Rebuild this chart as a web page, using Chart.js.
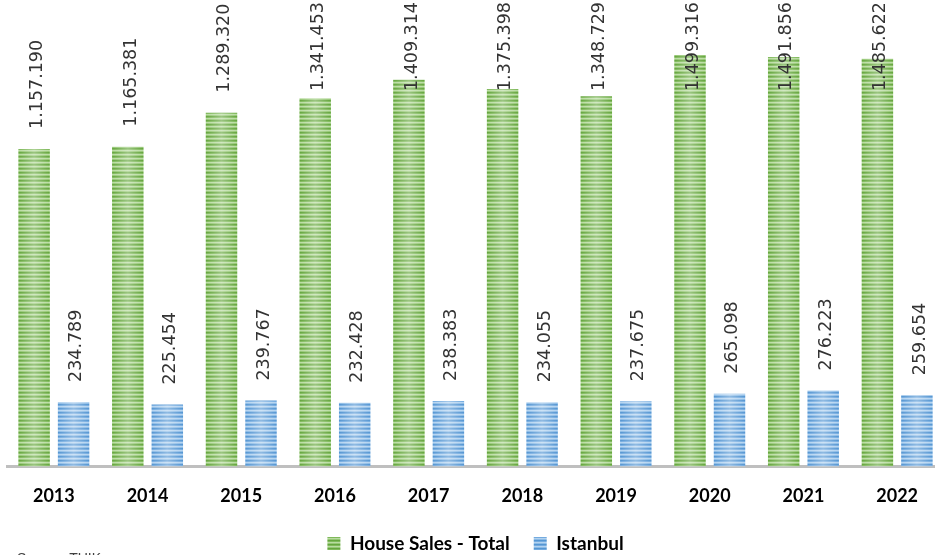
<!DOCTYPE html>
<html>
<head>
<meta charset="utf-8">
<script src="https://cdn.jsdelivr.net/npm/chart.js@4/dist/chart.umd.min.js"></script>
<style>
  html, body { margin: 0; padding: 0; background: #fff; overflow: hidden; }
  #wrap { width: 935px; height: 555px; overflow: hidden; }
</style>
</head>
<body>
<div id="wrap"><canvas id="chart" width="945" height="555"></canvas></div>
<script>
// chart data
const years = ['2013', '2014', '2015', '2016', '2017', '2018', '2019', '2020', '2021', '2022'];
const totalSales = [1157190, 1165381, 1289320, 1341453, 1409314, 1375398, 1348729, 1499316, 1491856, 1485622];
const istanbulSales = [234789, 225454, 239767, 232428, 238383, 234055, 237675, 265098, 276223, 259654];
const seriesNames = ['House Sales - Total', 'Istanbul'];
const sourceNote = 'Source: TUIK';

// turkish style thousands separator
function fmt(v) {
  return String(v).replace(/\B(?=(\d{3})+(?!\d))/g, '.');
}

// narrow horizontal stripes, like the excel pattern fill
function stripes(colors) {
  const c = document.createElement('canvas');
  c.width = 1;
  c.height = colors.length;
  const g = c.getContext('2d');
  colors.forEach((col, i) => {
    g.fillStyle = col;
    g.fillRect(0, i, 1, 1);
  });
  return g.createPattern(c, 'repeat');
}

const greenFill = stripes(['#65a53e', '#7fb95a', '#b9dba2', '#95c774']);
const blueFill = stripes(['#5596d2', '#74abdf', '#b3d3f0', '#8cbbe6']);

// soft light strip down the middle of each bar + value labels
const barDecor = {
  id: 'barDecor',
  afterDatasetsDraw(chart) {
    const ctx = chart.ctx;
    ctx.save();
    chart.data.datasets.forEach((ds, di) => {
      const meta = chart.getDatasetMeta(di);
      meta.data.forEach((bar) => {
        const p = bar.getProps(['x', 'y', 'base', 'width'], true);
        const l = p.x - p.width / 2, r = p.x + p.width / 2;
        const grad = ctx.createLinearGradient(l, 0, r, 0);
        grad.addColorStop(0, 'rgba(255,255,255,0)');
        grad.addColorStop(0.5, 'rgba(255,255,255,0.35)');
        grad.addColorStop(1, 'rgba(255,255,255,0)');
        ctx.fillStyle = grad;
        ctx.fillRect(l, p.y, p.width, p.base - p.y);
      });
    });

    ctx.font = '17.5px "DejaVu Sans"';
    ctx.fillStyle = '#333333';
    ctx.textAlign = 'left';
    ctx.textBaseline = 'alphabetic';
    chart.data.datasets.forEach((ds, di) => {
      const meta = chart.getDatasetMeta(di);
      meta.data.forEach((bar, i) => {
        const txt = fmt(ds.data[i]);
        const w = ctx.measureText(txt).width;
        let y = bar.y - 20;
        if (y - w < 2) y = 2 + w;
        ctx.save();
        ctx.translate(bar.x + 7.7, y);
        ctx.rotate(-Math.PI / 2);
        ctx.fillText(txt, 0, 0);
        ctx.restore();
      });
    });

    // source line, mostly cut off by the bottom edge
    ctx.font = '14px "Liberation Sans"';
    ctx.fillStyle = '#404040';
    ctx.textBaseline = 'top';
    ctx.fillText(sourceNote, 17, 552);
    ctx.restore();
  }
};

const chart = new Chart(document.getElementById('chart'), {
  type: 'bar',
  data: {
    labels: years,
    datasets: [
      {
        label: seriesNames[0],
        data: totalSales,
        backgroundColor: greenFill,
        borderWidth: 0,
        categoryPercentage: 0.843,
        barPercentage: 0.797
      },
      {
        label: seriesNames[1],
        data: istanbulSales,
        backgroundColor: blueFill,
        borderWidth: 0,
        categoryPercentage: 0.843,
        barPercentage: 0.797
      }
    ]
  },
  options: {
    responsive: false,
    animation: false,
    layout: { padding: { left: 7, right: 1, top: 0, bottom: -8 } },
    plugins: {
      legend: {
        position: 'bottom',
        labels: {
          boxWidth: 13,
          boxHeight: 13,
          padding: 24,
          color: '#000',
          font: { family: 'Lato', weight: 'bold', size: 19 }
        }
      },
      tooltip: { enabled: false }
    },
    scales: {
      x: {
        grid: { display: false },
        border: { color: '#bfbfbf', width: 3 },
        afterFit(scale) {
          scale.height -= 7;
        },
        ticks: {
          color: '#000',
          padding: 10.5,
          font: { family: 'Lato', weight: 'bold', size: 18 }
        }
      },
      y: {
        display: false,
        min: 0,
        max: 1700000
      }
    }
  },
  plugins: [barDecor]
});
</script>
</body>
</html>
